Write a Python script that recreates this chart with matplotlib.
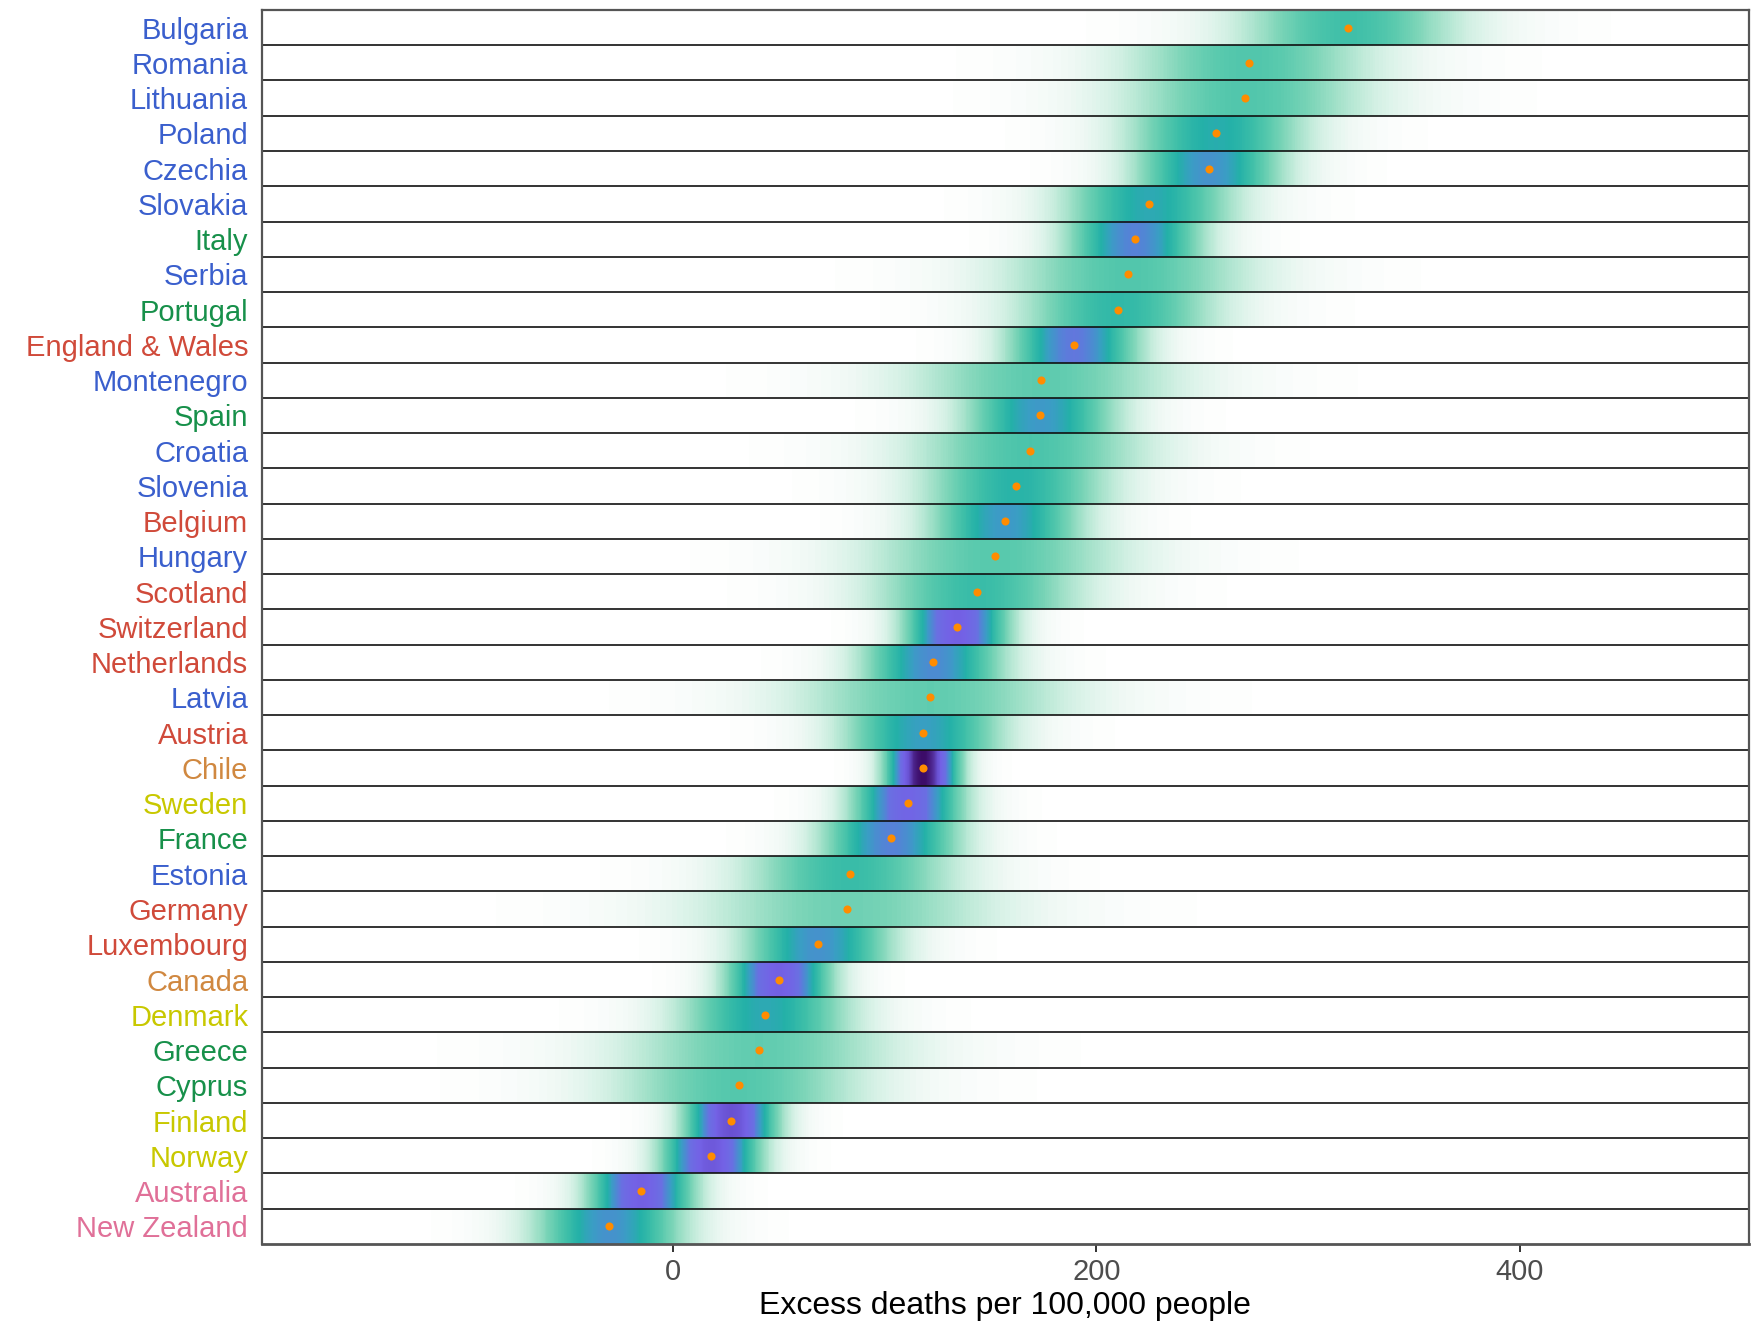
import matplotlib
matplotlib.use("Agg")
import matplotlib.pyplot as plt
import numpy as np
from matplotlib.colors import LinearSegmentedColormap

plt.rcParams['font.family'] = ['Liberation Sans', 'DejaVu Sans']

# countries, top to bottom
countries = ["Bulgaria", "Romania", "Lithuania", "Poland", "Czechia", "Slovakia",
             "Italy", "Serbia", "Portugal", "England & Wales", "Montenegro", "Spain",
             "Croatia", "Slovenia", "Belgium", "Hungary", "Scotland", "Switzerland",
             "Netherlands", "Latvia", "Austria", "Chile", "Sweden", "France",
             "Estonia", "Germany", "Luxembourg", "Canada", "Denmark", "Greece",
             "Cyprus", "Finland", "Norway", "Australia", "New Zealand"]

# region of each country (drives label colour)
regions = ["east", "east", "east", "east", "east", "east",
           "south", "east", "south", "west", "east", "south",
           "east", "east", "west", "east", "west", "west",
           "west", "east", "west", "americas", "nordic", "south",
           "east", "west", "west", "americas", "nordic", "south",
           "south", "nordic", "nordic", "oceania", "oceania"]

# median excess deaths per 100,000 (orange dots)
medians = [319, 272, 270, 256.5, 253, 225, 218, 215, 210, 189.5, 174, 173.5,
           168.5, 162, 157, 152, 143.5, 134, 123, 121.5, 118, 118, 111, 103,
           83.5, 82, 68.5, 50, 43.5, 40.5, 31, 27.5, 18, -15, -30]

# spread (scale) of each posterior
spreads = [35, 40, 40, 27, 22, 26, 20, 40, 31, 19, 44, 23,
           38, 29, 23, 42, 33, 14.5, 21, 45, 24, 9.5, 15.5, 20,
           33, 50, 22, 14.5, 26, 45, 41, 12.5, 13.5, 14.5, 22]

region_colors = {"east": "#3a5fcd", "south": "#17904a", "west": "#d04a3a",
                 "americas": "#d08840", "nordic": "#c8c800", "oceania": "#e07098"}

xmin, xmax = -194, 508
x = np.linspace(xmin, xmax, 1600)
m = np.array(medians)[:, None]
s = np.array(spreads)[:, None]
nu = 8.0
z = (x[None, :] - m) / s
dens = (1 + z ** 2 / nu) ** (-(nu + 1) / 2) / s
dens = dens / dens.max()

cmap = LinearSegmentedColormap.from_list("dens", [
    (0.00, "#ffffff"), (0.03, "#f0f9f5"), (0.07, "#d4f1e5"), (0.12, "#a8e3cc"),
    (0.17, "#7cd5b8"), (0.22, "#5acaae"), (0.28, "#3cbea8"), (0.34, "#24b1a8"),
    (0.40, "#3a9ec4"), (0.46, "#5088d4"), (0.52, "#6a70e2"), (0.64, "#7462e6"),
    (0.76, "#6a52d2"), (0.86, "#54309e"), (1.00, "#3c0c68")])

n = len(countries)
fig = plt.figure(figsize=(17.51, 13.29), dpi=100)
ax = fig.add_axes([0.1497, 0.064, 0.849, 0.9285])

ax.imshow(dens, aspect="auto", cmap=cmap, vmin=0, vmax=1,
          extent=[xmin, xmax, n, 0], interpolation="nearest")
for i in range(1, n):
    ax.axhline(i, color="#111111", lw=1.2)

ax.scatter(medians, np.arange(n) + 0.5, s=34, color="#ff8c00", zorder=5, linewidths=0)

ax.set_xlim(xmin, xmax)
ax.set_ylim(n, 0)
ax.set_yticks(np.arange(n) + 0.5)
ax.set_yticklabels(countries, fontsize=21)
for lab, r in zip(ax.get_yticklabels(), regions):
    lab.set_color(region_colors[r])
ax.tick_params(axis="y", length=0, pad=10)
ax.set_xticks([0, 200, 400])
ax.tick_params(axis="x", length=6, width=1.4, color="#333333", labelsize=21,
               labelcolor="#4d4d4d", pad=4)
for sp in ax.spines.values():
    sp.set_color("#555555")
    sp.set_linewidth(1.6)
ax.spines["bottom"].set_linewidth(2)
ax.set_xlabel("Excess deaths per 100,000 people", fontsize=23, labelpad=4)

fig.savefig("out.png", dpi=100)
